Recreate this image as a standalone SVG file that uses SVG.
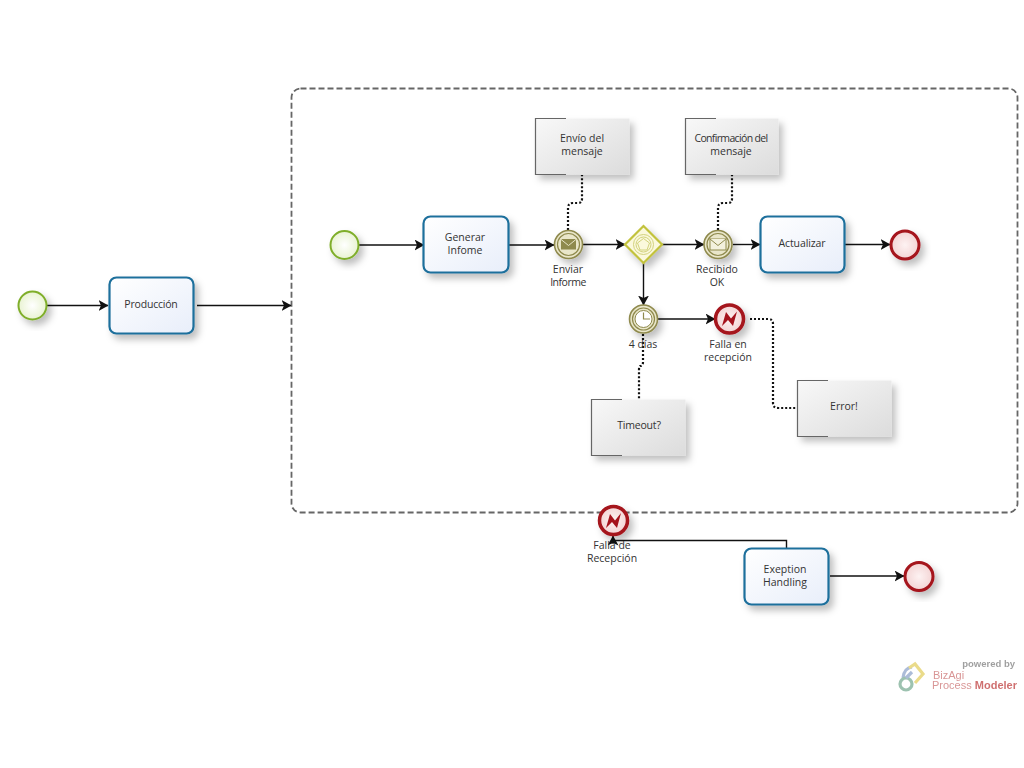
<svg xmlns="http://www.w3.org/2000/svg" width="1024" height="768" viewBox="0 0 1024 768">
<style>
text{font-family:"Open Sans","Noto Sans","Liberation Sans",sans-serif;font-size:10.5px;fill:#333;text-anchor:middle}
.flow{fill:none;stroke:#111;stroke-width:1.4;marker-end:url(#arrow)}
.assoc{fill:none;stroke:#111;stroke-width:2.2;stroke-dasharray:2 2}
.task{fill:url(#taskFill);stroke:#1f6f9c;stroke-width:2.2;filter:url(#shadow)}
.note{fill:url(#noteFill);filter:url(#shadow)}
.brk{fill:none;stroke:#666;stroke-width:1.2}
.start{fill:url(#startFill);stroke:#7fae2a;stroke-width:2;filter:url(#shadow)}
.end{fill:url(#endFill);stroke:#a5121c;stroke-width:3;filter:url(#shadow)}
.err{fill:url(#endFill);stroke:#a5121c;stroke-width:3.5;filter:url(#shadow)}
.bolt{fill:#a5121c}
.ev{fill:#e9e6c9;stroke:#8f8a4d;stroke-width:1.6;filter:url(#shadow)}
.evi{fill:none;stroke:#8f8a4d;stroke-width:1.2}
.gwi{fill:none;stroke:#d2d27c;stroke-width:1}
.logo-text{font-family:"Liberation Sans",sans-serif;font-size:11px;text-anchor:start;fill:#c96a6a}
</style>
<defs>
<marker id="arrow" markerUnits="userSpaceOnUse" markerWidth="12" markerHeight="12" refX="9.5" refY="5.5" orient="auto"><path d="M0 0L10 5.5L0 11L2.5 5.5Z" fill="#111"/></marker>
<linearGradient id="taskFill" x1="0" y1="0" x2="1" y2="1"><stop offset="0" stop-color="#fff"/><stop offset="1" stop-color="#e8eefa"/></linearGradient>
<linearGradient id="noteFill" x1="0" y1="0" x2="1" y2="1"><stop offset="0" stop-color="#f8f8f8"/><stop offset="1" stop-color="#dcdcdc"/></linearGradient>
<radialGradient id="startFill"><stop offset="0" stop-color="#fff"/><stop offset="1" stop-color="#e9f3d2"/></radialGradient>
<radialGradient id="endFill"><stop offset="0" stop-color="#fdf2f2"/><stop offset="1" stop-color="#f3d4d4"/></radialGradient>
<filter id="shadow" x="-30%" y="-30%" width="170%" height="170%"><feDropShadow dx="4" dy="5" stdDeviation="3.500" flood-color="#000" flood-opacity="0.25"/></filter>
<g id="envelope"><rect x="-8" y="-5.500" width="16" height="11"/><path d="M-8 -5.500L0 1L8 -5.500"/></g>
</defs>
<rect width="1024" height="768" fill="#fff"/>
<rect id="subprocess" x="291.500" y="88.500" width="726" height="424" rx="9" fill="none" stroke="#666" stroke-width="1.800" stroke-dasharray="6 3"/>
<g id="connectors">
<path class="flow" d="M47 305.500H108"/>
<path class="flow" d="M197 305.500H291"/>
<path class="flow" d="M359 245H424"/>
<path class="flow" d="M509 245H554"/>
<path class="flow" d="M583 244.500H625"/>
<path class="flow" d="M662 244.500H704"/>
<path class="flow" d="M733 244.500H760"/>
<path class="flow" d="M845 244.500H890"/>
<path class="flow" d="M643.500 263V305"/>
<path class="flow" d="M658 319H715"/>
<path class="flow" d="M786.500 548V540.500H613V536"/>
<path class="flow" d="M830 576H904"/>
<path class="assoc" d="M568 230V208Q568 203 573 203H578Q582 203 582 199V175"/>
<path class="assoc" d="M718 230V208Q718 203 723 203H728Q732 203 732 199V175"/>
<path class="assoc" d="M643 334V362Q643 366 640 366Q639 366 639 370V399"/>
<path class="assoc" d="M750 319H768Q773 319 773 324V403Q773 408 778 408H797"/>
</g>
<g id="start-outer"><circle class="start" cx="32.500" cy="305.500" r="14"/></g>
<g id="task-produccion"><rect class="task" x="109.500" y="277.500" width="84" height="56" rx="7"/><text x="151" y="308" letter-spacing="-0.200">Producción</text></g>
<g id="start-inner"><circle class="start" cx="344.500" cy="245" r="14"/></g>
<g id="task-generar"><rect class="task" x="423.500" y="216.500" width="85" height="56" rx="7"/><text x="465" y="241">Generar</text><text x="465" y="254">Infome</text></g>
<g id="event-enviar"><circle class="ev" cx="568.500" cy="244.500" r="14"/><circle class="evi" cx="568.500" cy="244.500" r="11"/><use href="#envelope" x="568.500" y="244.500" fill="#8f8a4d" stroke="#e9e6c9"/><text x="568" y="273">Enviar</text><text x="568" y="286" letter-spacing="-0.500">Informe</text></g>
<g id="gateway"><path d="M643.500 226L662 244.500L643.500 263L625 244.500Z" fill="#fbf9dc" stroke="#c2c23c" stroke-width="2.200" filter="url(#shadow)"/><circle class="gwi" cx="643.500" cy="244.500" r="10"/><circle class="gwi" cx="643.500" cy="244.500" r="7.500"/><path class="gwi" d="M643.500 238.500L649.500 243L647 250H640L637.500 243Z"/></g>
<g id="event-recibido"><circle class="ev" cx="718" cy="244.500" r="14"/><circle class="evi" cx="718" cy="244.500" r="11"/><use href="#envelope" x="718" y="244.500" fill="#f3f1dd" stroke="#8f8a4d"/><text x="717" y="273">Recibido</text><text x="717" y="286">OK</text></g>
<g id="task-actualizar"><rect class="task" x="760.500" y="216.500" width="84" height="56" rx="7"/><text x="802" y="247" letter-spacing="-0.100">Actualizar</text></g>
<g id="end-inner"><circle class="end" cx="905" cy="245" r="14"/></g>
<g id="event-timer"><circle class="ev" cx="643.500" cy="319" r="14"/><circle class="evi" cx="643.500" cy="319" r="11"/><circle cx="643.500" cy="319" r="8.500" fill="#fff" stroke="#8f8a4d"/><path d="M643.500 312.500V319H650" fill="none" stroke="#8f8a4d" stroke-width="1.200"/><text x="643" y="348">4 días</text></g>
<g id="event-falla"><circle class="err" cx="729.500" cy="319" r="14"/><path class="bolt" d="M722 326L726 312L731 318.500L737 311.500L733 326L728 320Z"/><text x="728" y="348">Falla en</text><text x="728" y="361">recepción</text></g>
<g id="note-envio"><rect class="note" x="535.500" y="118.500" width="94" height="56"/><path class="brk" d="M566 118.500H535.500V174.500H566"/><text x="582" y="142">Envío del</text><text x="582" y="155">mensaje</text></g>
<g id="note-confirmacion"><rect class="note" x="685.500" y="118.500" width="93" height="56"/><path class="brk" d="M716 118.500H685.500V174.500H716"/><text x="731" y="142" letter-spacing="-0.650">Confirmación del</text><text x="731" y="155">mensaje</text></g>
<g id="note-timeout"><rect class="note" x="591.500" y="399.500" width="94" height="56"/><path class="brk" d="M622 399.500H591.500V455.500H622"/><text x="639" y="429" letter-spacing="-0.200">Timeout?</text></g>
<g id="note-error"><rect class="note" x="797.500" y="380.500" width="94" height="56"/><path class="brk" d="M828 380.500H797.500V436.500H828"/><text x="844" y="410">Error!</text></g>
<g id="event-boundary"><circle class="err" cx="613.500" cy="520.500" r="14"/><path class="bolt" d="M606 528L610 514L615 520.500L621 513L617 528L612 522Z"/><text x="612" y="549">Falla de</text><text x="612" y="562">Recepción</text></g>
<g id="task-exeption"><rect class="task" x="744.500" y="548.500" width="84" height="56" rx="7"/><text x="785" y="573">Exeption</text><text x="785" y="586">Handling</text></g>
<g id="end-outer"><circle class="end" cx="919" cy="576.500" r="14"/></g>
<g id="logo" opacity="0.7"><g fill="none" stroke-width="3.200"><path d="M903 678Q904 668 912 667" stroke="#8aa0c8"/><path d="M909 668L915 664L923 674L915 683" stroke="#e2cc5a"/><circle cx="906" cy="684" r="6" stroke="#74a98f"/><path d="M906 678L912 672" stroke="#8aa0c8"/></g>
<text x="1015" y="667" style="font-family:'Liberation Sans',sans-serif;font-size:9.500px;font-weight:bold;text-anchor:end;fill:#777">powered by</text>
<text class="logo-text" x="933" y="679">BizAgi</text>
<text class="logo-text" x="932" y="689">Process <tspan font-weight="bold" fill="#b33">Modeler</tspan></text></g>
</svg>
